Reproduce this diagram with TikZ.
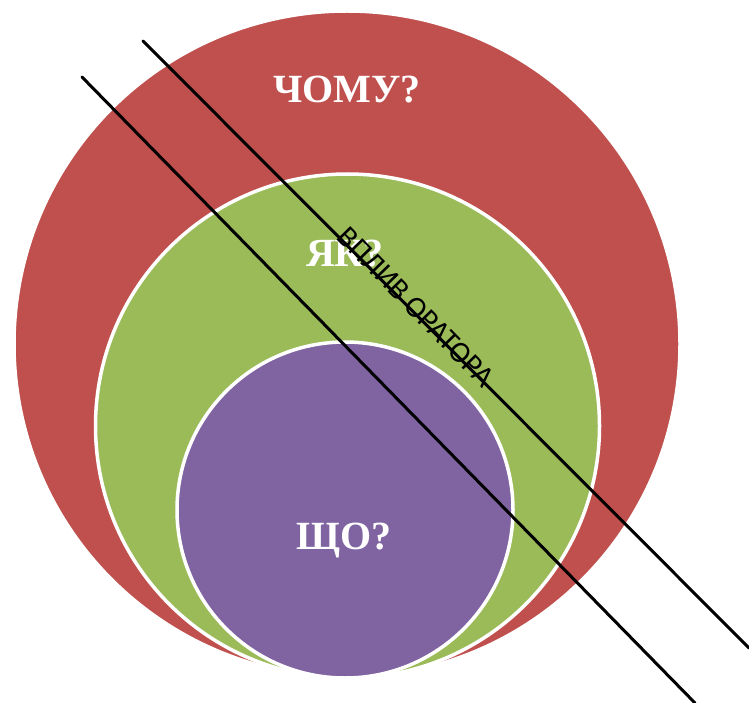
\documentclass[tikz,border=0pt]{standalone}
\usepackage{fontspec}
\setmainfont{Liberation Serif}
\newfontfamily\labelfont{Carlito}
\usepackage{tikz}
\definecolor{ringred}{HTML}{C0504D}
\definecolor{ringgreen}{HTML}{9BBB59}
\definecolor{ringviolet}{HTML}{8064A2}
\tikzset{
  every picture/.style={line join=round, line cap=round},
  ring/.style={draw=white, line width=3.5pt},
  question/.style={text=white, font=\fontsize{40}{40}\selectfont\bfseries},
  cutline/.style={black, line width=3pt},
}
\begin{document}
\begin{tikzpicture}[x=1pt,y=-1pt]
\useasboundingbox (0,0) rectangle (749,703);
% three nested circles
\fill[ringred,ring](347,344) circle (333);
\fill[ringgreen,ring](347.5,426) circle (252);
\fill[ringviolet,ring](345,510) circle (168);
\node[question] (why) at (347,90) {ЧОМУ?};
\node[question] (how) at (345,254) {ЯК?};
\node[question] (what) at (344,541) {ЩО?};
% two crossing lines
\coordinate (a1) at (143,41);
\coordinate (a2) at (749,648);
\coordinate (b1) at (82,77);
\coordinate (b2) at (695,703);
\draw[cutline](a1)--(a2);
\draw[cutline](b1)--(b2);
\node[rotate=-45.7,font=\labelfont\fontsize{30}{30}\selectfont] (speaker) at (416,307) {ВПЛИВ ОРАТОРА};
\end{tikzpicture}
\end{document}
